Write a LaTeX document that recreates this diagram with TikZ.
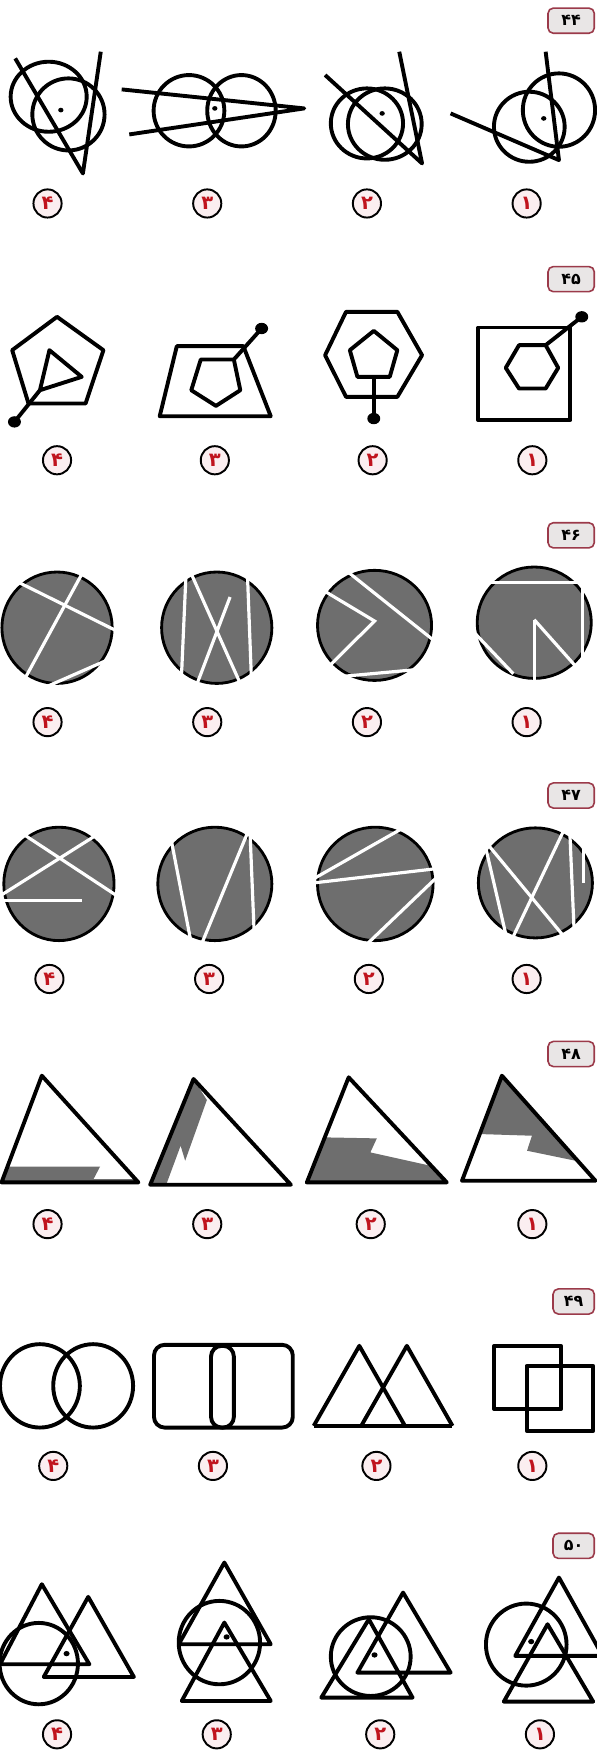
\documentclass[tikz,border=0pt]{standalone}
\usepackage{fontspec}
\newfontfamily\farsi[Script=Arabic]{DejaVu Sans}

\definecolor{optred}{HTML}{C0141E}
\definecolor{optfill}{HTML}{FBEEF0}
\definecolor{badgeedge}{HTML}{9B3A4A}
\definecolor{badgefill}{HTML}{E9E6E6}
\definecolor{diskgray}{HTML}{6E6E6E}

\begin{document}
\begin{tikzpicture}[x=0.0222cm, y=-0.0222cm,
  zoomrow/.style={xscale=0.3405, yscale=0.2987},
  outline/.style={line width=2.2pt, line join=round},
  graydisk/.style={fill=diskgray, draw=black, line width=1.6pt},
  whitecut/.style={draw=white, line width=1.8pt},
  graypart/.style={fill=diskgray},
  optnum/.style={circle, draw=black, line width=1.1pt, fill=optfill, text=optred,
    minimum size=0.56cm, inner sep=0pt, font=\farsi\bfseries\fontsize{11}{13}\selectfont},
  qbadge/.style={draw=badgeedge, fill=badgefill, rounded corners=3pt, line width=0.9pt,
    minimum width=0.92cm, minimum height=0.5cm, anchor=east,
    font=\farsi\bfseries\fontsize{9}{11}\selectfont}]
  \useasboundingbox (0,0) rectangle (534,1568);

  % Question 44
  \begin{scope}[zoomrow]
    \node[qbadge] (q44) at (1565,62) {۴۴};
    % option 4
    \draw[outline] (128,290) ellipse [x radius=100, y radius=105];
    \draw[outline] (180,343) ellipse [x radius=95, y radius=108];
    \draw[outline] (40,175) -- (218,520) -- (265,155);
    \fill (160,330) circle (7);
    % option 3
    \draw[outline] (497,332) ellipse [x radius=93, y radius=107];
    \draw[outline] (635,332) ellipse [x radius=90, y radius=107];
    \draw[outline] (320,268) -- (800,325) -- (340,403);
    \fill (565,325) circle (7);
    % option 2
    \draw[outline] (965,370) ellipse [x radius=95, y radius=105];
    \draw[outline] (1012,372) ellipse [x radius=97, y radius=107];
    \draw[outline] (855,225) -- (1110,490) -- (1050,155);
    \fill (1005,340) circle (7);
    % option 1
    \draw[outline] (1392,380) ellipse [x radius=93, y radius=105];
    \draw[outline] (1470,330) ellipse [x radius=95, y radius=110];
    \draw[outline] (1185,340) -- (1470,480) -- (1435,155);
    \fill (1430,355) circle (7);
    % Labels
    \node[optnum] (q44d) at (125,610) {۴};
    \node[optnum] (q44c) at (545,610) {۳};
    \node[optnum] (q44b) at (965,610) {۲};
    \node[optnum] (q44a) at (1385,610) {۱};
  \end{scope}

  % Question 45
  \begin{scope}[shift={(0,215)}, zoomrow]
    \node[qbadge] (q45) at (1565,117) {۴۵};
    % option 4
    \draw[outline] (150,230) -- (272,330) -- (225,490) -- (75,490) -- (32,330) -- cycle;
    \draw[outline] (130,330) -- (215,410) -- (105,450) -- cycle;
    \draw[outline] (105,450) -- (38,545);
    \fill (38,545) circle (17);
    % option 3
    \draw[outline] (465,318) -- (640,318) -- (712,528) -- (420,528) -- cycle;
    \draw[outline] (528,358) -- (615,358) -- (632,450) -- (568,497) -- (503,450) -- cycle;
    \draw[outline] (615,358) -- (688,265);
    \fill (688,265) circle (17);
    % option 2
    \draw[outline] (910,215) -- (1045,215) -- (1110,345) -- (1045,470) -- (910,470) -- (855,345) -- cycle;
    \draw[outline] (983,272) -- (1045,330) -- (1025,410) -- (940,410) -- (920,330) -- cycle;
    \draw[outline] (983,410) -- (983,535);
    \fill (983,535) circle (17);
    % option 1
    \draw[outline] (1258,262) rectangle (1500,540);
    \draw[outline] (1365,315) -- (1435,315) -- (1468,383) -- (1435,445) -- (1365,445) -- (1330,383) -- cycle;
    \draw[outline] (1435,315) -- (1530,230);
    \fill (1530,230) circle (17);
    % Labels
    \node[optnum] (q45d) at (150,660) {۴};
    \node[optnum] (q45c) at (565,660) {۳};
    \node[optnum] (q45b) at (980,660) {۲};
    \node[optnum] (q45a) at (1400,660) {۱};
  \end{scope}

  % Question 46
  \begin{scope}[shift={(0,448)}, zoomrow]
    \node[qbadge] (q46) at (1565,105) {۴۶};
    % option 4
    \filldraw[graydisk] (150,382) ellipse [x radius=145, y radius=167];
    \begin{scope}
      \clip (150,382) ellipse [x radius=152, y radius=176];
      \draw[whitecut] (40,241) -- (320,399);
      \draw[whitecut] (220,211) -- (60,546);
      \draw[whitecut] (120,560) -- (280,480);
    \end{scope}
    % option 3
    \filldraw[graydisk] (570,382) ellipse [x radius=145, y radius=167];
    \begin{scope}
      \clip (570,382) ellipse [x radius=152, y radius=176];
      \draw[whitecut] (490,200) -- (476,560);
      \draw[whitecut] (497,205) -- (640,570);
      \draw[whitecut] (605,290) -- (510,575);
      \draw[whitecut] (650,200) -- (662,560);
    \end{scope}
    % option 2
    \filldraw[graydisk] (985,375) ellipse [x radius=150, y radius=165];
    \begin{scope}
      \clip (985,375) ellipse [x radius=157, y radius=174];
      \draw[whitecut] (890,192) -- (1155,433);
      \draw[whitecut] (840,263) -- (985,362) -- (850,515);
      \draw[whitecut] (900,528) -- (1100,507);
    \end{scope}
    % option 1
    \filldraw[graydisk] (1405,367) ellipse [x radius=150, y radius=167];
    \begin{scope}
      \clip (1405,367) ellipse [x radius=157, y radius=176];
      \draw[whitecut] (1250,247) -- (1560,247);
      \draw[whitecut] (1531,247) -- (1531,560);
      \draw[whitecut] (1405,358) -- (1405,560);
      \draw[whitecut] (1405,358) -- (1540,531);
      \draw[whitecut] (1240,388) -- (1350,520);
    \end{scope}
    % Labels
    \node[optnum] (q46d) at (125,665) {۴};
    \node[optnum] (q46c) at (545,665) {۳};
    \node[optnum] (q46b) at (965,665) {۲};
    \node[optnum] (q46a) at (1385,665) {۱};
  \end{scope}

  % Question 47
  \begin{scope}[shift={(0,681)}, zoomrow]
    \node[qbadge] (q47) at (1565,105) {۴۷};
    % option 4
    \filldraw[graydisk] (155,370) ellipse [x radius=145, y radius=170];
    \begin{scope}
      \clip (155,370) ellipse [x radius=152, y radius=179];
      \draw[whitecut] (60,220) -- (320,415);
      \draw[whitecut] (250,226) -- (0,406);
      \draw[whitecut] (-5,420) -- (215,420);
    \end{scope}
    % option 3
    \filldraw[graydisk] (565,370) ellipse [x radius=150, y radius=170];
    \begin{scope}
      \clip (565,370) ellipse [x radius=157, y radius=179];
      \draw[whitecut] (448,225) -- (505,560);
      \draw[whitecut] (657,200) -- (523,570);
      \draw[whitecut] (657,200) -- (670,560);
    \end{scope}
    % option 2
    \filldraw[graydisk] (987,370) ellipse [x radius=152, y radius=170];
    \begin{scope}
      \clip (987,370) ellipse [x radius=159, y radius=179];
      \draw[whitecut] (815,361) -- (1065,199);
      \draw[whitecut] (810,369) -- (1165,322);
      \draw[whitecut] (1160,338) -- (960,556);
    \end{scope}
    % option 1
    \filldraw[graydisk] (1408,367) ellipse [x radius=150, y radius=165];
    \begin{scope}
      \clip (1408,367) ellipse [x radius=157, y radius=174];
      \draw[whitecut] (1270,234) -- (1495,544);
      \draw[whitecut] (1490,192) -- (1343,544);
      \draw[whitecut] (1275,250) -- (1331,525);
      \draw[whitecut] (1498,200) -- (1511,540);
      \draw[whitecut] (1535,230) -- (1535,368);
    \end{scope}
    % Labels
    \node[optnum] (q47d) at (130,655) {۴};
    \node[optnum] (q47c) at (550,655) {۳};
    \node[optnum] (q47b) at (970,655) {۲};
    \node[optnum] (q47a) at (1385,655) {۱};
  \end{scope}

  % Question 48
  \begin{scope}[shift={(0,905)}, zoomrow]
    \node[qbadge] (q48) at (1565,130) {۴۸};
    % option 4
    \fill[graypart] (19,468) -- (263,468) -- (246,505) -- (356,505) -- (364,515) -- (4,515) -- cycle;
    \draw[outline] (110,195) -- (364,515) -- (4,515) -- cycle;
    % option 3
    \fill[graypart] (509,205) -- (544,268) -- (487,450) -- (475,405) -- (437,522) -- (395,522) -- cycle;
    \draw[outline] (509,205) -- (765,522) -- (395,522) -- cycle;
    % option 2
    \fill[graypart] (856,380) -- (991,383) -- (974,425) -- (1132,465) -- (1175,515) -- (807,515) -- cycle;
    \draw[outline] (917,200) -- (1175,515) -- (807,515) -- cycle;
    % option 1
    \fill[graypart] (1320,195) -- (1262,370) -- (1399,375) -- (1386,420) -- (1522,452) -- cycle;
    \draw[outline] (1320,195) -- (1566,510) -- (1215,510) -- cycle;
    % Labels
    \node[optnum] (q48d) at (125,640) {۴};
    \node[optnum] (q48c) at (545,640) {۳};
    \node[optnum] (q48b) at (975,640) {۲};
    \node[optnum] (q48a) at (1400,640) {۱};
  \end{scope}

  % Question 49
  \begin{scope}[shift={(0,1129)}, zoomrow]
    \node[qbadge, minimum width=0.82cm] (q49) at (1565,122) {۴۹};
    % option 4
    \draw[outline] (105,375) ellipse [x radius=105, y radius=125];
    \draw[outline] (245,375) ellipse [x radius=105, y radius=125];
    % option 3
    \draw[outline, rounded corners=6pt] (405,252) rectangle (770,500);
    \draw[outline, rounded corners=6pt] (555,255) rectangle (615,500);
    % option 2
    \draw[outline] (825,495) -- (945,255) -- (1065,495);
    \draw[outline] (950,495) -- (1070,255) -- (1190,495);
    \draw[outline] (825,495) -- (1190,495);
    % option 1
    \draw[outline] (1300,255) rectangle (1475,445);
    \draw[outline] (1385,315) rectangle (1560,510);
    % Labels
    \node[optnum] (q49d) at (140,615) {۴};
    \node[optnum] (q49c) at (560,615) {۳};
    \node[optnum] (q49b) at (990,615) {۲};
    \node[optnum] (q49a) at (1400,615) {۱};
  \end{scope}

  % Question 50
  \begin{scope}[shift={(0,1335)}, zoomrow]
    \node[qbadge, minimum width=0.82cm] (q50) at (1565,165) {۵۰};
    % option 4
    \draw[outline] (0,520) -- (110,280) -- (235,520) -- cycle;
    \draw[outline] (115,558) -- (232,318) -- (352,558) -- cycle;
    \draw[outline] (102,518) ellipse [x radius=103, y radius=122];
    \fill (175,488) circle (8);
    % option 3
    \draw[outline] (470,460) -- (590,215) -- (712,460) -- cycle;
    \draw[outline] (478,630) -- (590,395) -- (712,630) -- cycle;
    \draw[outline] (577,455) ellipse [x radius=107, y radius=125];
    \fill (596,438) circle (8);
    % option 2
    \draw[outline] (940,545) -- (1060,305) -- (1185,545) -- cycle;
    \draw[outline] (845,620) -- (970,385) -- (1085,620) -- cycle;
    \draw[outline] (975,497) ellipse [x radius=105, y radius=118];
    \fill (985,492) circle (8);
    % option 1
    \draw[outline] (1355,495) -- (1470,260) -- (1585,495) -- cycle;
    \draw[outline] (1325,632) -- (1440,400) -- (1560,632) -- cycle;
    \draw[outline] (1384,461) ellipse [x radius=106, y radius=123];
    \fill (1397,452) circle (8);
    % Labels
    \node[optnum] (q50d) at (150,730) {۴};
    \node[optnum] (q50c) at (570,730) {۳};
    \node[optnum] (q50b) at (1000,730) {۲};
    \node[optnum] (q50a) at (1420,730) {۱};
  \end{scope}
\end{tikzpicture}
\end{document}
